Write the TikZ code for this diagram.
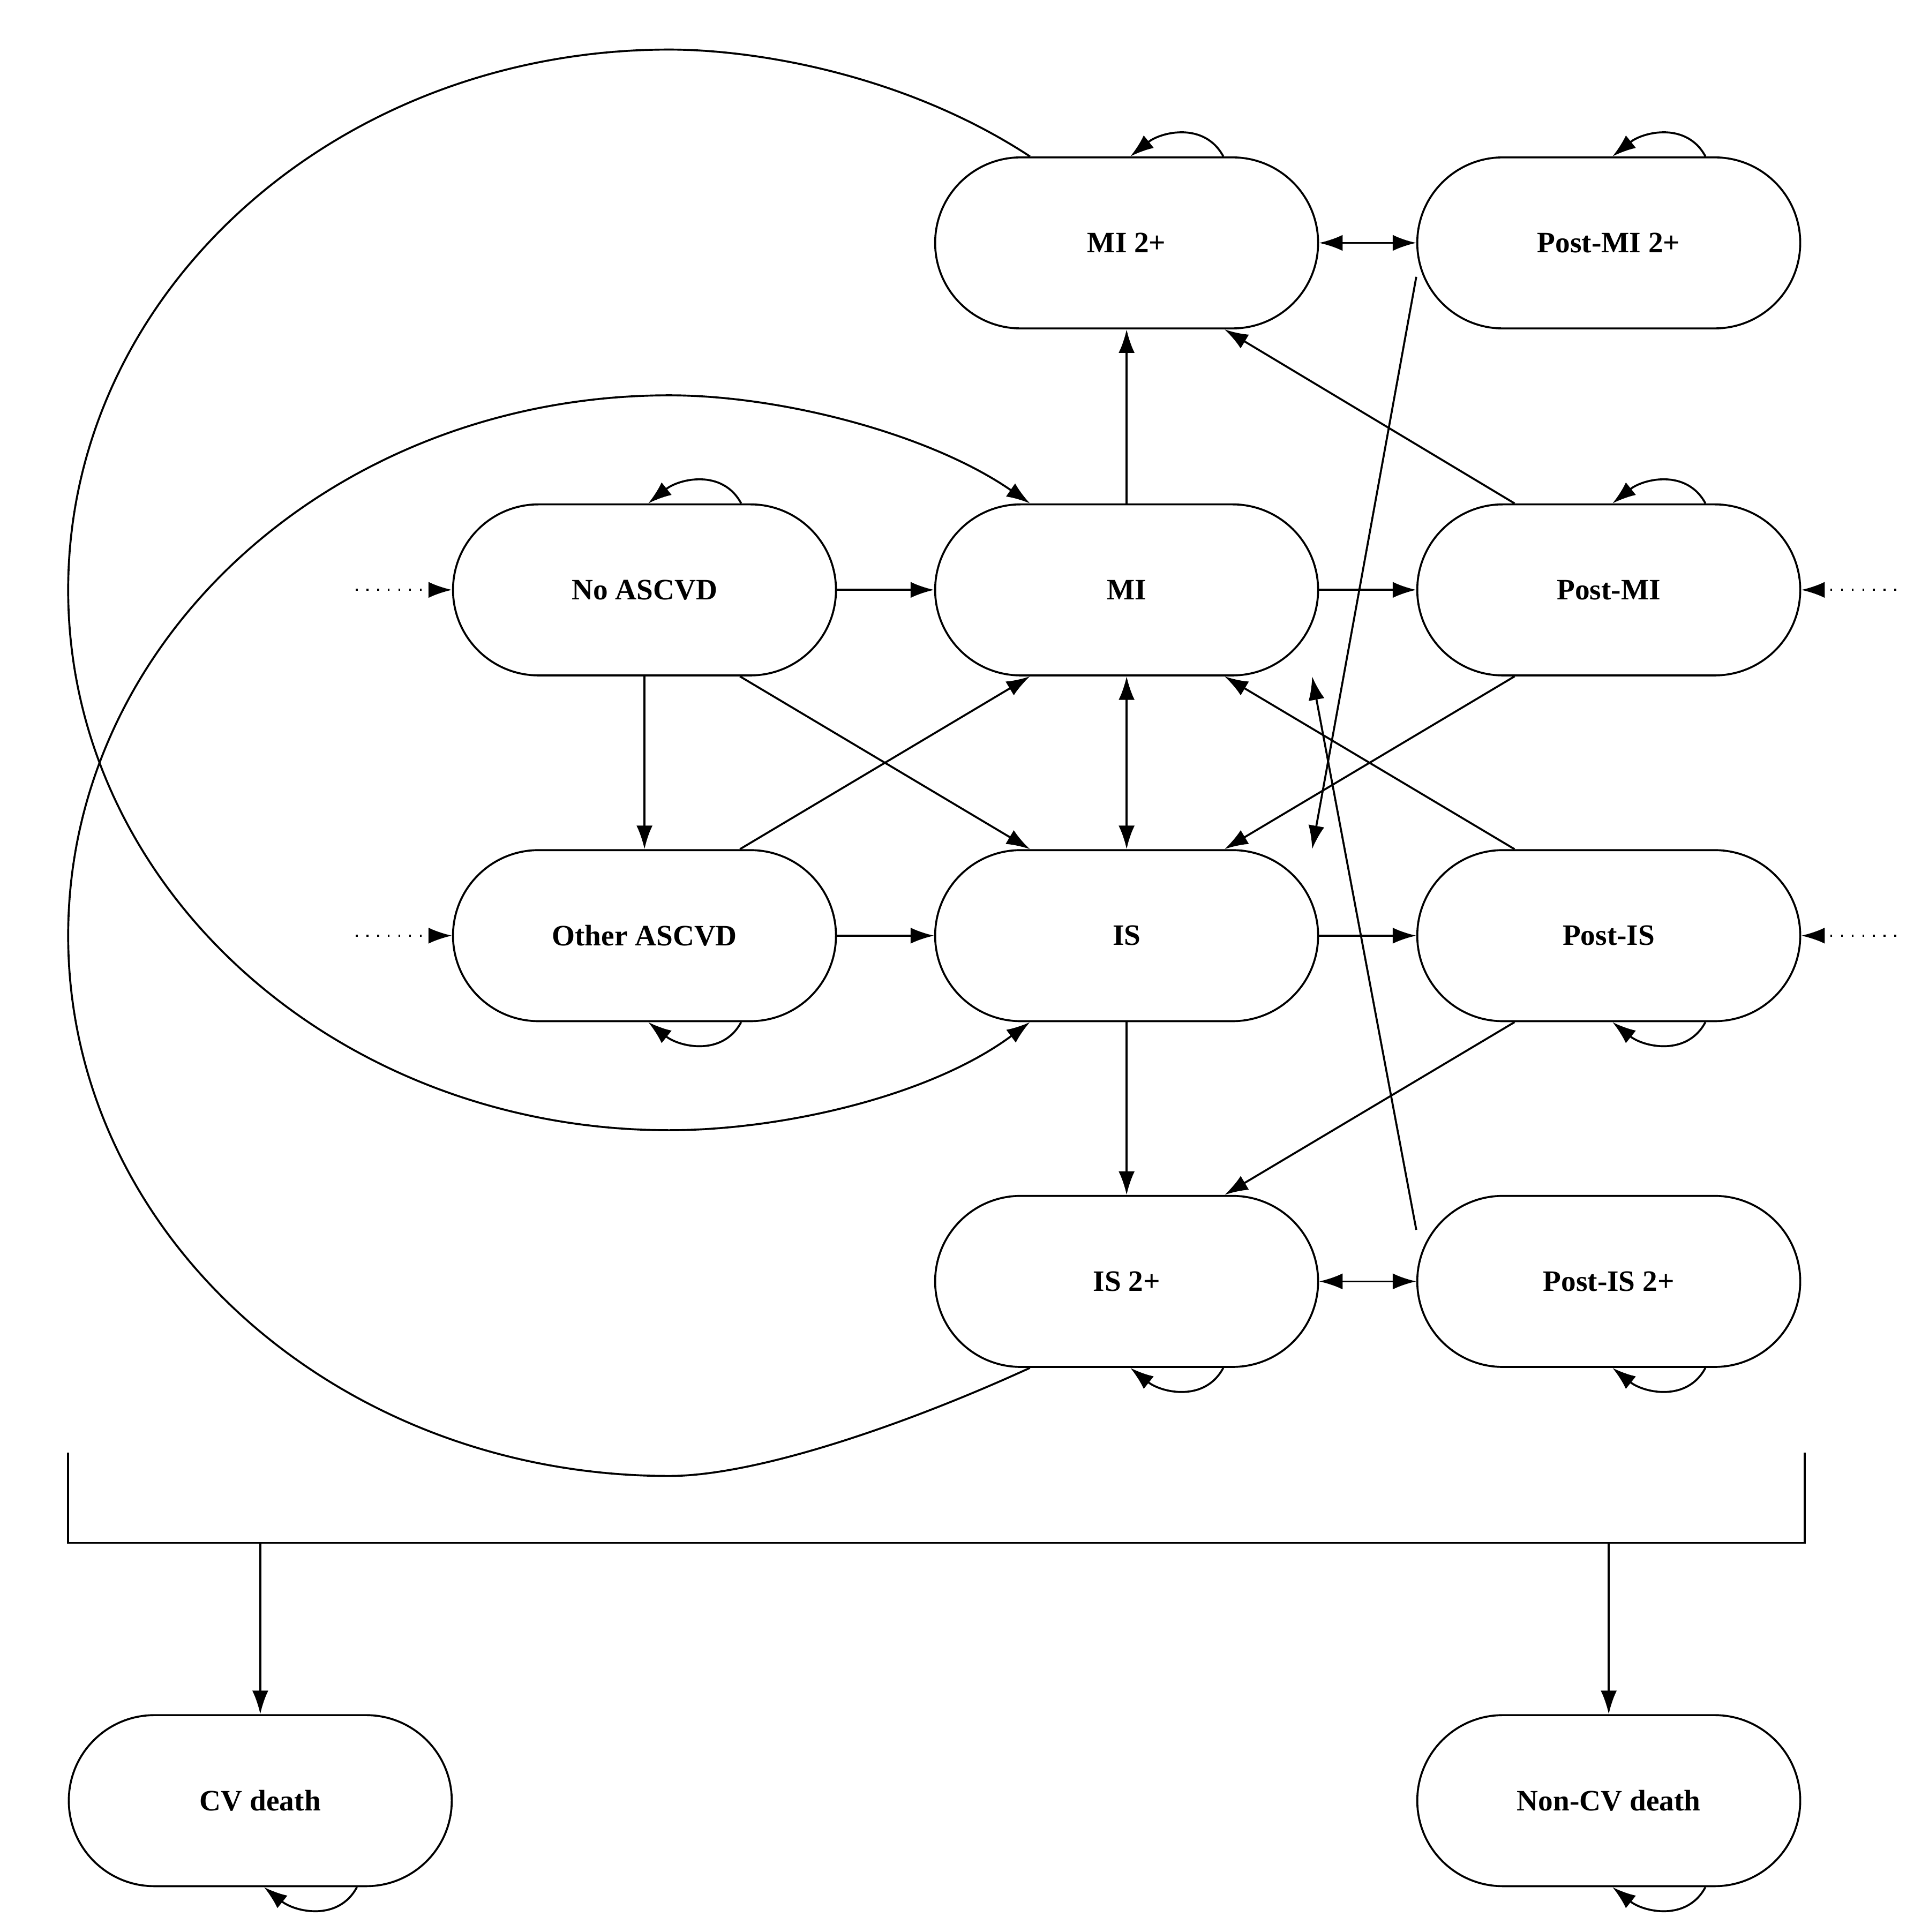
\documentclass[tikz,border=0pt]{standalone}
\usepackage{fontspec}
\setmainfont{Liberation Serif}
\usetikzlibrary{arrows.meta}
\begin{document}
\begin{tikzpicture}[>={Latex[length=1.9mm,width=1.3mm]},line width=0.45pt]
    \tikzset{state/.style={draw,rectangle,rounded corners=0.69cm,minimum width=3.09cm,minimum height=1.38cm,inner sep=0pt,font=\fontsize{6.8}{8}\selectfont\bfseries}}
    \tikzset{entry/.style={->,dotted}}
\useasboundingbox (0,0) rectangle (15.56,-15.59);

\node[state] (mitwo) at (9.09,-1.96) {MI 2+};
\node[state] (pmitwo) at (12.98,-1.96) {Post-MI 2+};
\node[state] (noa) at (5.20,-4.76) {No ASCVD};
\node[state] (mi) at (9.09,-4.76) {MI};
\node[state] (pmi) at (12.98,-4.76) {Post-MI};
\node[state] (oth) at (5.20,-7.55) {Other ASCVD};
\node[state] (is) at (9.09,-7.55) {IS};
\node[state] (pis) at (12.98,-7.55) {Post-IS};
\node[state] (istwo) at (9.09,-10.34) {IS 2+};
\node[state] (pistwo) at (12.98,-10.34) {Post-IS 2+};
\node[state] (cv) at (2.10,-14.53) {CV death};
\node[state] (ncv) at (12.98,-14.53) {Non-CV death};

% entries
\coordinate (e1) at (2.87,-4.76);
\coordinate (e2) at (2.87,-7.55);
\coordinate (e3) at (15.30,-4.76);
\coordinate (e4) at (15.30,-7.55);
\draw[entry] (e1) -- (noa);
\draw[entry] (e2) -- (oth);
\draw[entry] (e3) -- (pmi);
\draw[entry] (e4) -- (pis);

% straight transitions
\draw[->] (mi) -- (mitwo);
\draw[<->] (mitwo) -- (pmitwo);
\draw[->] (noa) -- (mi);
\draw[->] (mi) -- (pmi);
\draw[->] (noa) -- (oth);
\draw[<->] (mi) -- (is);
\draw[->] (oth) -- (is);
\draw[->] (is) -- (pis);
\draw[->] (is) -- (istwo);
\draw[<->] (istwo) -- (pistwo);
\draw[->] ([xshift=-0.76cm]pmi.north) -- ([xshift=0.79cm]mitwo.south);
\draw[->] ([xshift=0.77cm]noa.south) -- ([xshift=-0.78cm]is.north);
\draw[->] ([xshift=0.77cm]oth.north) -- ([xshift=-0.78cm]mi.south);
\draw[->] ([xshift=-0.76cm]pmi.south) -- ([xshift=0.79cm]is.north);
\draw[->] ([xshift=-0.76cm]pis.north) -- ([xshift=0.79cm]mi.south);
\draw[->] ([xshift=-0.76cm]pis.south) -- ([xshift=0.79cm]istwo.north);
\draw[->] (pmitwo.190) -- (is.25);
\draw[->] (pistwo.165) -- (mi.-25);

% long arcs
\draw[->] ([xshift=-0.78cm]mitwo.north) .. controls (7.3,-0.6) and (6.1,-0.40) .. (5.40,-0.40)
    .. controls (2.72,-0.40) and (0.55,-2.35) .. (0.55,-4.76)
    .. controls (0.55,-7.17) and (2.72,-9.12) .. (5.40,-9.12)
    .. controls (6.3,-9.12) and (7.5,-8.85) .. ([xshift=-0.78cm]is.south);
\draw[->] ([xshift=-0.78cm]istwo.south) .. controls (7.3,-11.5) and (6.1,-11.91) .. (5.40,-11.91)
    .. controls (2.72,-11.91) and (0.55,-9.96) .. (0.55,-7.55)
    .. controls (0.55,-5.14) and (2.72,-3.19) .. (5.40,-3.19)
    .. controls (6.3,-3.19) and (7.5,-3.5) .. ([xshift=-0.78cm]mi.north);

% self loops
\foreach \n in {mitwo,pmitwo,noa,pmi}
    \draw[->] ([xshift=0.78cm]\n.north) .. controls +(-0.15,0.28) and +(0.25,0.2) .. ([xshift=0.03cm]\n.north);
\foreach \n in {oth,pis,istwo,pistwo,cv,ncv}
    \draw[->] ([xshift=0.78cm]\n.south) .. controls +(-0.15,-0.28) and +(0.25,-0.2) .. ([xshift=0.03cm]\n.south);

% death bracket
\coordinate (b1) at (0.55,-11.72);
\coordinate (b2) at (0.55,-12.45);
\coordinate (b3) at (14.56,-12.45);
\coordinate (b4) at (14.56,-11.72);
\coordinate (bcv) at (2.10,-12.45);
\coordinate (bncv) at (12.98,-12.45);
\draw (b1) -- (b2) -- (b3) -- (b4);
\draw[->] (bcv) -- (cv);
\draw[->] (bncv) -- (ncv);
\end{tikzpicture}
\end{document}
